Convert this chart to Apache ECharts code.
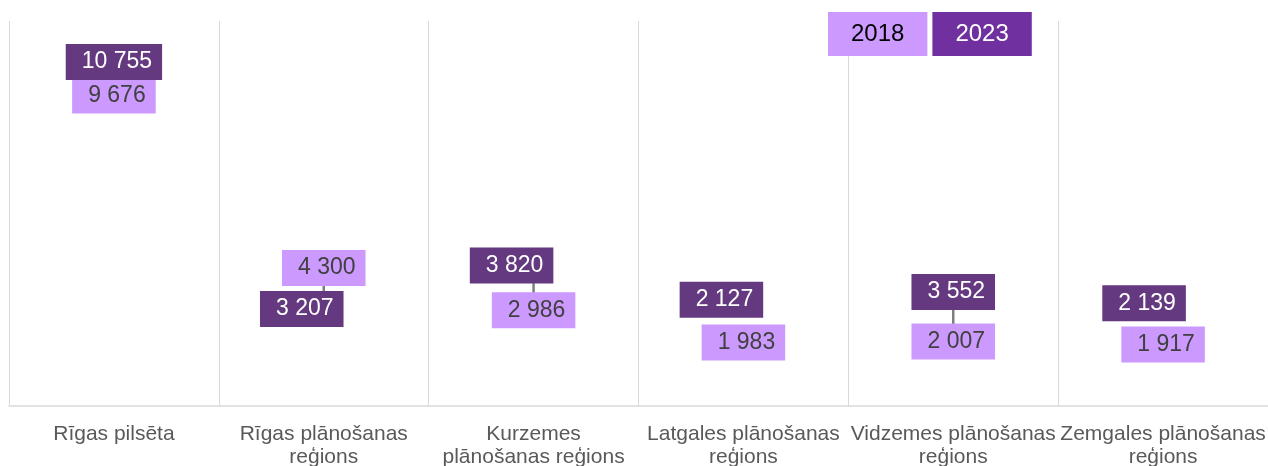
<!DOCTYPE html>
<html>
<head>
<meta charset="utf-8">
<script src="https://cdn.jsdelivr.net/npm/echarts@6/dist/echarts.min.js"></script>
<style>
html,body{margin:0;padding:0;background:#fff;}
#chart{width:1268px;height:466px;}
</style>
</head>
<body>
<div id="chart"></div>
<script>
// ---- data ----
const categories = [
  'Rīgas pilsēta',
  'Rīgas plānošanas\nreģions',
  'Kurzemes\nplānošanas reģions',
  'Latgales plānošanas\nreģions',
  'Vidzemes plānošanas\nreģions',
  'Zemgales plānošanas\nreģions'
];
const seriesNames = ['2018', '2023'];
const values2018 = [9676, 4300, 2986, 1983, 2007, 1917];
const values2023 = [10755, 3207, 3820, 2127, 3552, 2139];

// ---- layout (label nudges to avoid overlap, px) ----
const nudge2023 = [[0, 1], [-22, 6], [-22, -18], [-22, -38], [0, 0], [-19, -34]];

const FONT = 'Liberation Sans, Arial, sans-serif';
const fmt = v => String(v).replace(/\B(?=(\d{3})+(?!\d))/g, ' ');

const chart = echarts.init(document.getElementById('chart'), null, {renderer: 'canvas'});

const labelBase = {
  show: true,
  position: 'inside',
  opacity: 1,
  fontFamily: FONT,
  fontSize: 23,
  lineHeight: 26,
  padding: [6, 10, 4, 16],
  formatter: p => fmt(p.value[1])
};

chart.setOption({
  animation: false,
  backgroundColor: '#ffffff',
  grid: {left: 9, right: 0, top: 21, bottom: 60, containLabel: false, outerBoundsMode: 'none'},
  legend: {
    left: 818,
    top: 7,
    itemWidth: 0,
    itemHeight: 0,
    itemGap: 0,
    selectedMode: false,
    data: [
      {name: '2018', icon: 'rect', textStyle: {backgroundColor: '#CC99FF', color: '#000000', fontFamily: FONT, fontSize: 24, lineHeight: 28, padding: [8, 23, 8, 23]}},
      {name: '2023', icon: 'rect', textStyle: {backgroundColor: '#7030A0', color: '#ffffff', fontFamily: FONT, fontSize: 24, lineHeight: 28, padding: [8, 23, 8, 23]}}
    ]
  },
  xAxis: {
    type: 'category',
    data: categories,
    boundaryGap: true,
    axisTick: {show: false},
    axisLine: {show: true, lineStyle: {color: '#D9D9D9', width: 1.5}},
    splitLine: {show: true, lineStyle: {color: '#D9D9D9', width: 1}},
    axisLabel: {
      interval: 0,
      margin: 17,
      color: '#595959',
      fontFamily: FONT,
      fontSize: 21,
      lineHeight: 23,
      hideOverlap: false
    }
  },
  yAxis: {type: 'value', min: 0, max: 12000, show: false},
  series: [
    {
      type: 'custom',
      name: 'connector',
      z: 1,
      silent: true,
      data: categories.map((c, i) => [i, values2018[i], values2023[i]]),
      encode: {x: 0, y: [1, 2]},
      renderItem: (params, api) => {
        const p1 = api.coord([api.value(0), api.value(1)]);
        const p2 = api.coord([api.value(0), api.value(2)]);
        return {
          type: 'line',
          shape: {x1: p1[0], y1: p1[1], x2: p2[0], y2: p2[1]},
          style: {stroke: '#7F7F7F', lineWidth: 2.5}
        };
      }
    },
    {
      type: 'scatter',
      name: seriesNames[0],
      z: 3,
      symbolSize: 1,
      itemStyle: {color: '#CC99FF', opacity: 1},
      label: Object.assign({}, labelBase, {backgroundColor: '#CC99FF', color: '#404040'}),
      data: values2018.map((v, i) => ({value: [i, v]}))
    },
    {
      type: 'scatter',
      name: seriesNames[1],
      z: 3,
      symbolSize: 1,
      itemStyle: {color: '#64397F', opacity: 1},
      label: Object.assign({}, labelBase, {backgroundColor: '#64397F', color: '#ffffff'}),
      data: values2023.map((v, i) => ({value: [i, v], label: {offset: nudge2023[i]}}))
    }
  ]
});
</script>
</body>
</html>
